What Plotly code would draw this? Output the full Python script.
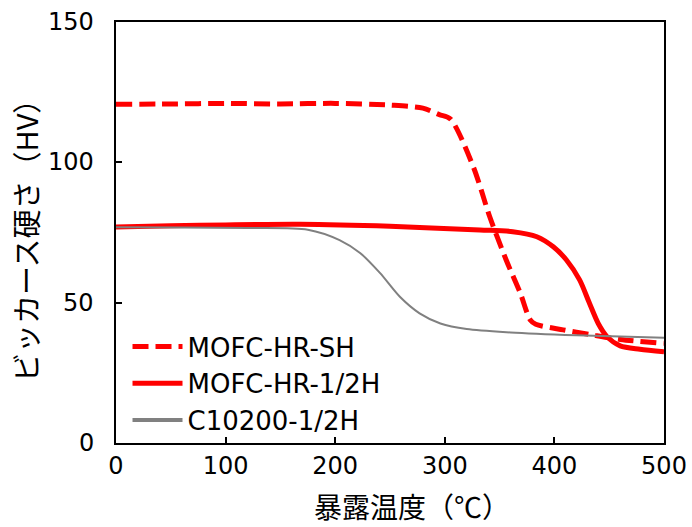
import plotly.graph_objects as go

# ---- data ----
sh_x = [0, 50, 100, 150, 200, 250, 280, 295, 305, 326, 341, 356, 369, 378, 383, 408, 432, 460, 500]
sh_y = [120.7, 120.8, 121.0, 120.8, 121.0, 120.4, 119.3, 117.0, 115.5, 98.4, 80.6, 65.2, 53.3, 43.8, 42.3, 40.3, 38.7, 36.9, 35.5]

h_x = [0, 50, 100, 168, 250, 332, 362, 384, 399, 411, 423, 432, 440, 448, 460, 478, 500]
h_y = [77.0, 77.4, 77.7, 77.9, 77.2, 75.9, 75.3, 73.5, 69.9, 65.2, 58.1, 49.8, 42.6, 37.9, 34.6, 33.4, 32.5]

c_x = [0, 60, 120, 175, 204, 223, 241, 259, 277, 296, 320, 360, 420, 500]
c_y = [76.9, 76.8, 76.6, 76.0, 72.3, 67.6, 60.5, 52.1, 46.2, 42.6, 40.6, 39.4, 38.4, 37.5]

names = ["MOFC-HR-SH", "MOFC-HR-1/2H", "C10200-1/2H"]
x_ticks = [0, 100, 200, 300, 400, 500]
y_ticks = [0, 50, 100, 150]
x_title = "暴露温度（℃）"
y_title = "ビッカース硬さ（HV）"

FONT = "DejaVu Sans, Noto Sans CJK JP, sans-serif"
CJK = "Noto Sans CJK JP, sans-serif"

fig = go.Figure()
fig.add_trace(go.Scatter(x=sh_x, y=sh_y, mode="lines", name=names[0],
                         line=dict(color="#FF0000", width=5, dash="16px,7px",
                                   shape="spline", smoothing=0.8)))
fig.add_trace(go.Scatter(x=h_x, y=h_y, mode="lines", name=names[1],
                         line=dict(color="#FF0000", width=5, shape="spline", smoothing=0.8)))
fig.add_trace(go.Scatter(x=c_x, y=c_y, mode="lines", name=names[2], showlegend=False,
                         line=dict(color="#808080", width=2, shape="spline", smoothing=0.8)))
# legend entry for the gray series (thicker sample as in the reference)
fig.add_trace(go.Scatter(x=[None], y=[None], mode="lines", name=names[2],
                         line=dict(color="#808080", width=4)))

axis_common = dict(showline=True, linecolor="black", linewidth=2, mirror=True,
                   ticks="inside", ticklen=6, tickwidth=2, tickcolor="black",
                   showgrid=False, zeroline=False, automargin=False,
                   tickfont=dict(family=FONT, size=24, color="black"))

fig.update_xaxes(range=[0, 500], tickvals=x_ticks, **axis_common)
fig.update_yaxes(range=[0, 150], tickvals=y_ticks, showticklabels=False, **axis_common)

# y tick labels placed a little further from the axis line, as in the reference
y_labels = [dict(text=str(v), xref="paper", yref="y", x=-20 / 548, y=v,
                 xanchor="right", yanchor="middle", showarrow=False,
                 font=dict(family=FONT, size=24, color="black")) for v in y_ticks]

fig.update_layout(
    width=692, height=527,
    margin=dict(l=116, r=28, t=22, b=84),
    plot_bgcolor="white", paper_bgcolor="white",
    font=dict(family=FONT, size=24, color="black"),
    legend=dict(x=0.021, y=0.285, xanchor="left", yanchor="top",
                bgcolor="rgba(0,0,0,0)", font=dict(family=FONT, size=26, color="black"),
                itemwidth=50, tracegroupgap=0),
    annotations=y_labels + [
        dict(text=x_title, xref="paper", yref="paper", x=(412 - 116) / 548, y=-(506 - 443) / 421,
             xanchor="center", yanchor="middle", showarrow=False,
             font=dict(family=CJK, size=28, color="black")),
        dict(text=y_title, xref="paper", yref="paper", x=(25 - 116) / 548, y=(443 - 234) / 421,
             xanchor="center", yanchor="middle", showarrow=False, textangle=-90,
             font=dict(family=CJK, size=29, color="black")),
    ],
)

fig.write_html("out.html")
